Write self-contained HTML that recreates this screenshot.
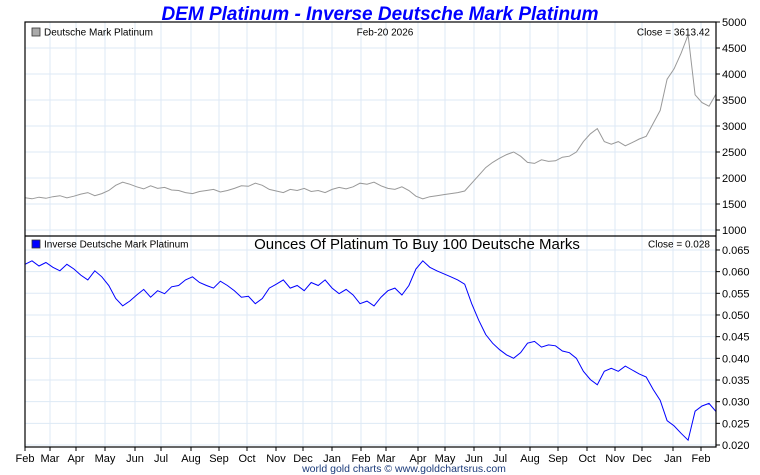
<!DOCTYPE html>
<html><head><meta charset="utf-8"><style>
body{margin:0;background:#fff;}
svg{display:block;font-family:"Liberation Sans",sans-serif;}
</style></head><body>
<svg id="c" width="760" height="475">
<text x="380" y="20" text-anchor="middle" font-size="19" font-weight="bold" font-style="italic" fill="#0000ff">DEM Platinum - Inverse Deutsche Mark Platinum</text>
<g id="grid"></g>
<g id="marks"></g>
<rect x="25" y="22" width="691" height="425" fill="none" stroke="#000" stroke-width="1.2"/>
<line x1="25" y1="236" x2="716" y2="236" stroke="#000" stroke-width="1.2"/>
<rect x="32" y="28" width="8" height="8" fill="#aaa" stroke="#333" stroke-width="0.8"/>
<text x="44" y="35.5" font-size="10">Deutsche Mark Platinum</text>
<text x="385" y="35.5" font-size="10" text-anchor="middle">Feb-20  2026</text>
<text x="710" y="35.5" font-size="10" text-anchor="end">Close = 3613.42</text>
<rect x="32" y="240" width="8" height="8" fill="#0000ff" stroke="#333" stroke-width="0.8"/>
<text x="44" y="247.5" font-size="10">Inverse Deutsche Mark Platinum</text>
<text x="417" y="249" font-size="15" text-anchor="middle">Ounces Of Platinum To Buy 100 Deutsche Marks</text>
<text x="710" y="247.5" font-size="10" text-anchor="end">Close = 0.028</text>
<text x="404" y="472" font-size="10.5" text-anchor="middle" fill="#1a3a7a">world gold charts © www.goldchartsrus.com</text>
</svg>
<script>
const monthLabels=["Feb","Mar","Apr","May","Jun","Jul","Aug","Sep","Oct","Nov","Dec","Jan","Feb","Mar","Apr","May","Jun","Jul","Aug","Sep","Oct","Nov","Dec","Jan","Feb"];
const priceTicks=[1000,1500,2000,2500,3000,3500,4000,4500,5000];
const inverseTicks=[0.020,0.025,0.030,0.035,0.040,0.045,0.050,0.055,0.060,0.065];
const priceValues=[1620,1600,1630,1610,1640,1660,1620,1650,1690,1720,1660,1700,1760,1860,1920,1880,1830,1790,1850,1800,1820,1770,1760,1720,1700,1740,1760,1780,1730,1760,1800,1850,1840,1900,1860,1780,1750,1720,1780,1760,1800,1740,1760,1720,1780,1820,1790,1830,1900,1880,1920,1850,1800,1780,1830,1760,1650,1600,1640,1660,1680,1700,1720,1750,1900,2050,2200,2300,2380,2450,2500,2420,2300,2280,2350,2320,2330,2400,2420,2500,2700,2850,2950,2700,2650,2700,2620,2680,2750,2800,3050,3300,3900,4100,4400,4750,3600,3450,3380,3613];
const inverseValues=[.0617,.0625,.0613,.0621,.0610,.0602,.0617,.0606,.0592,.0581,.0602,.0588,.0568,.0538,.0521,.0532,.0546,.0559,.0541,.0556,.0549,.0565,.0568,.0581,.0588,.0575,.0568,.0562,.0578,.0568,.0556,.0541,.0543,.0526,.0538,.0562,.0571,.0581,.0562,.0568,.0556,.0575,.0568,.0581,.0562,.0549,.0559,.0546,.0526,.0532,.0521,.0541,.0556,.0562,.0546,.0568,.0606,.0625,.0610,.0602,.0595,.0588,.0581,.0571,.0526,.0488,.0455,.0435,.0420,.0408,.0400,.0413,.0435,.0439,.0426,.0431,.0429,.0417,.0413,.0400,.0370,.0351,.0339,.0370,.0377,.0370,.0382,.0373,.0364,.0357,.0328,.0303,.0256,.0244,.0227,.0211,.0278,.0290,.0296,.0277];
const monthX=[25,50,76,105,135,161,191,219,247,276,303,332,361,386,418,445,474,500,530,558,587,615,642,673,701];
const NS="http://www.w3.org/2000/svg";
const grid=document.getElementById('grid'),marks=document.getElementById('marks');
function mk(t,a,p){const e=document.createElementNS(NS,t);for(const k in a)e.setAttribute(k,a[k]);p.appendChild(e);return e;}
const yP=v=>230-(v-1000)/500*26;
const yI=v=>445-(v-0.020)/0.005*21.67;
const xI=i=>25+i/(priceValues.length-1)*691;
monthLabels.forEach((m,i)=>{
 const x=monthX[i];
 const l=mk('line',{x1:x,y1:22,x2:x,y2:447,stroke:'#dde9f5','stroke-width':1},grid);
 
 
 const tk=mk('line',{x1:x,y1:447,x2:x,y2:451,stroke:'#000'},grid);
 
 
 const t=mk('text',{x:x,y:462,'font-size':11,'text-anchor':'middle'},grid);t.textContent=m;
 
 
});
function yAxis(ticks,fy,fmt){
 ticks.forEach(v=>{const y=fy(v);
  const l=mk('line',{x1:25,y1:y,x2:716,y2:y,stroke:'#dde9f5'},grid);
  
  
  const tk=mk('line',{x1:716,y1:y,x2:720,y2:y,stroke:'#000'},grid);
  
  
  const t=mk('text',{x:722,y:y+4,'font-size':11},grid);t.textContent=fmt(v);
  
  
 });
}
yAxis(priceTicks,yP,v=>String(v));
yAxis(inverseTicks,yI,v=>v.toFixed(3));
const p1=mk('polyline',{points:priceValues.map((v,i)=>xI(i).toFixed(1)+','+yP(v).toFixed(1)).join(' '),fill:'none',stroke:'#999','stroke-width':1},marks);


const p2=mk('polyline',{points:inverseValues.map((v,i)=>xI(i).toFixed(1)+','+yI(v).toFixed(1)).join(' '),fill:'none',stroke:'#0000ff','stroke-width':1},marks);


</script>
</body></html>
